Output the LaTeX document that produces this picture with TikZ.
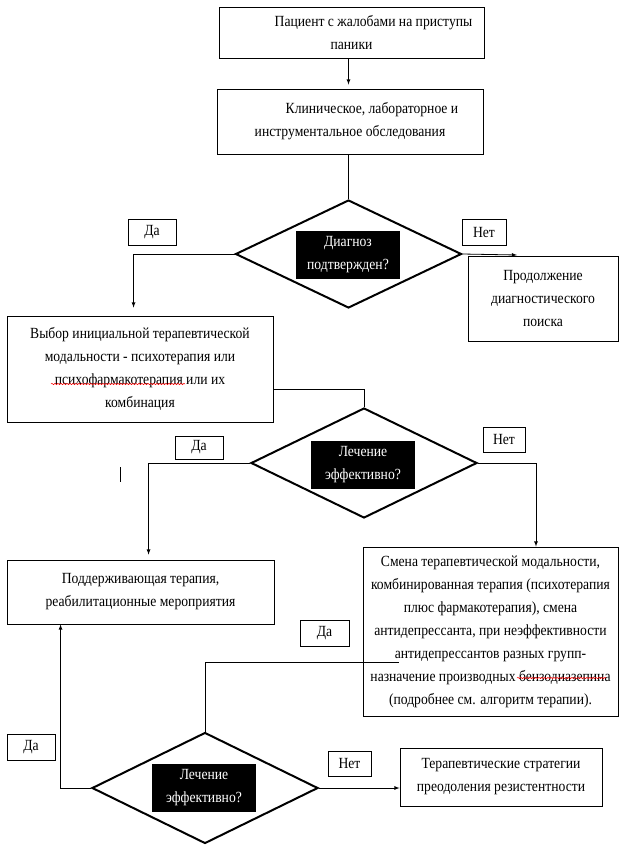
\documentclass[tikz,border=0pt]{standalone}
\usepackage{fontspec}
\setmainfont{Liberation Serif}[FakeStretch=0.88]
\usepackage{tikz}
\usetikzlibrary{calc}
\usetikzlibrary{arrows}
\usetikzlibrary{arrows.meta}
\usetikzlibrary{shapes}
\usetikzlibrary{shapes.geometric}
\usetikzlibrary{decorations.pathmorphing}
\tikzset{>=latex}
\newcommand{\txtsize}{\fontsize{15.5}{23}\selectfont}
\tikzstyle{blk} = [rectangle, draw=black, line width=0.9pt, inner sep=0pt, align=center, font=\txtsize]
\tikzstyle{dmd} = [diamond, draw=black, line width=2pt, inner sep=0pt, minimum width=226pt]
\tikzstyle{ask} = [rectangle, fill=black, text=white, inner sep=0pt, minimum width=104pt, minimum height=48pt, align=center, font=\txtsize]
\tikzstyle{ans} = [rectangle, draw=black, line width=0.8pt, inner sep=0pt, minimum height=26pt, font=\txtsize]
\tikzstyle{con} = [draw=black, line width=0.8pt]
\tikzstyle{wavy} = [draw=red, line width=0.5pt, decorate, decoration={snake, amplitude=0.7pt, segment length=3pt}]

\begin{document}
\begin{tikzpicture}[x=1pt, y=-1pt]
\useasboundingbox (0,0) rectangle (629,849);
\node [blk, minimum width=265pt, minimum height=51pt] (patient) at (351.5, 32.5) {\hspace*{44pt}Пациент с жалобами на приступы\\паники};
\node [blk, minimum width=266pt, minimum height=65pt] (exam) at (350, 121.5) {\hspace*{44pt}Клиническое, лабораторное и\\инструментальное обследования};
\node [dmd, minimum height=108pt] (d1) at (348.5, 254) {};
\node [ask] (q1) at (348, 255) {Диагноз\\подтвержден?};
\node [ans, minimum width=48pt] (yes1) at (152, 232) {Да};
\node [ans, minimum width=44pt] (no1) at (484, 232) {Нет};
\node [blk, minimum width=150pt, minimum height=85pt] (search) at (543, 298.5) {Продолжение\\диагностического\\поиска};
\coordinate (n1) at (517, 255);
\node [blk, minimum width=266pt, minimum height=106pt] (choice) at (140, 369) {Выбор инициальной терапевтической\\модальности - психотерапия или\\психофармакотерапия или их\\комбинация};
\node [dmd, minimum height=110pt] (d2) at (364, 463) {};
\node [ask] (q2) at (363, 464.5) {Лечение\\эффективно?};
\node [ans, minimum width=48pt, minimum height=23pt] (yes2) at (199, 447.5) {Да};
\node [ans, minimum width=42pt, minimum height=25pt] (no2) at (504, 439.5) {Нет};
\node [blk, minimum width=267pt, minimum height=64pt] (support) at (140.5, 592) {Поддерживающая терапия,\\реабилитационные мероприятия};
\node [blk, minimum width=255pt, minimum height=169pt] (change) at (490.5, 631.5) {Смена терапевтической модальности,\\комбинированная терапия (психотерапия\\плюс фармакотерапия), смена\\антидепрессанта, при неэффективности\\антидепрессантов разных групп-\\назначение производных бензодиазепина\\(подробнее см. алгоритм терапии).};
\node [ans, minimum width=49pt] (yes3) at (324.5, 633) {Да};
\coordinate (j3) at (399, 662);
\node [dmd, minimum height=111pt] (d3) at (205, 788) {};
\node [ask] (q3) at (204, 788) {Лечение\\эффективно?};
\node [ans, minimum width=48pt] (yes4) at (31, 747) {Да};
\node [ans, minimum width=43pt, minimum height=25pt] (no3) at (349.5, 763.5) {Нет};
\node [blk, minimum width=202pt, minimum height=58pt] (resist) at (501, 777) {Терапевтические стратегии\\преодоления резистентности};
\draw [con, -latex, shorten >=4pt] (patient.south -| d1.north) -- (exam.north -| d1.north);
\draw [con] (exam.south -| d1.north) -- (d1.north);
\draw [con, -latex, shorten >=8pt] (d1.west) -| ($(choice.north west)+(127,0)$);
\draw [con, -latex] (d1.east) -- (n1);
\draw [con] ($(choice.east)+(0,20)$) -| (d2.north);
\draw [con, -latex, shorten >=5pt] (d2.west) -| ($(support.north west)+(142,0)$);
\draw [con, -latex] (d2.east) -| ($(change.north)+(45.5,0)$);
\draw [con] (d3.north) |- (j3);
\draw [con, -latex] (d3.west) -| ($(support.south west)+(54,0)$);
\draw [con, -latex] (d3.east) -- (d3.east -| resist.west);
\draw [con] (120, 467) -- (120, 482);
\draw [wavy] (51, 384) -- (185, 384);
\draw [wavy] (517, 678) -- (606, 678);
\end{tikzpicture}
\end{document}
